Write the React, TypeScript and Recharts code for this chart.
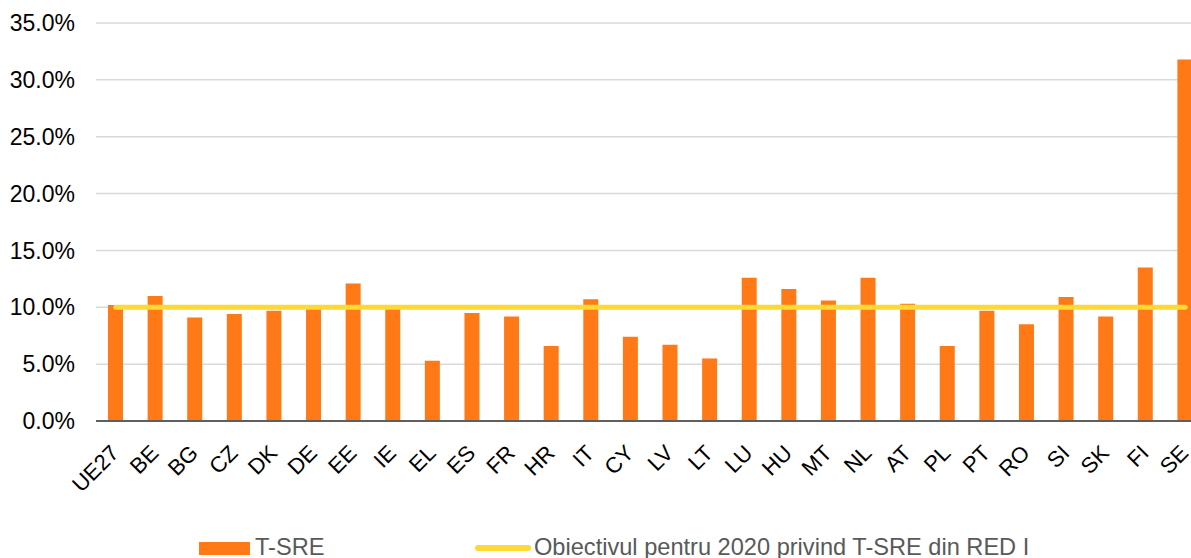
import React from "react";
import {
  ComposedChart,
  Bar,
  Line,
  XAxis,
  YAxis,
  CartesianGrid,
} from "recharts";

const countries = [
  "UE27", "BE", "BG", "CZ", "DK", "DE", "EE", "IE", "EL", "ES", "FR", "HR", "IT", "CY",
  "LV", "LT", "LU", "HU", "MT", "NL", "AT", "PL", "PT", "RO", "SI", "SK", "FI", "SE",
];

// share of renewables in transport (T-SRE), as fractions
const tSre = [
  0.102, 0.110, 0.091, 0.094, 0.097, 0.099, 0.121, 0.099, 0.053, 0.095, 0.092, 0.066, 0.107, 0.074,
  0.067, 0.055, 0.126, 0.116, 0.106, 0.126, 0.103, 0.066, 0.097, 0.085, 0.109, 0.092, 0.135, 0.318,
];

// RED I 2020 target
const target = [
  0.1, 0.1, 0.1, 0.1, 0.1, 0.1, 0.1, 0.1, 0.1, 0.1, 0.1, 0.1, 0.1, 0.1,
  0.1, 0.1, 0.1, 0.1, 0.1, 0.1, 0.1, 0.1, 0.1, 0.1, 0.1, 0.1, 0.1, 0.1,
];

const yTicks = [0, 0.05, 0.1, 0.15, 0.2, 0.25, 0.3, 0.35];

const seriesNames = ["T-SRE", "Obiectivul pentru 2020 privind T-SRE din RED I"];

const BAR_COLOR = "#ff7a17";
const LINE_COLOR = "#fdd935";
const FONT = "'Liberation Sans', Arial, sans-serif";

const data = countries.map((c, i) => ({ name: c, tsre: tSre[i], target: target[i] }));

const pct = (v: number) => `${(v * 100).toFixed(1)}%`;

const CountryTick = ({ x, y, payload }: any) => (
  <g transform={`translate(${x - 1},${y + 26})`}>
    <text
      x={0}
      y={0}
      dy="0.35em"
      textAnchor="end"
      transform="rotate(-45)"
      fill="#000"
      fontSize={22}
      fontFamily={FONT}
    >
      {payload.value}
    </text>
  </g>
);

const legendText: React.CSSProperties = {
  position: "absolute",
  top: 534,
  fontSize: 23.6,
  lineHeight: "26px",
  color: "#595959",
  whiteSpace: "nowrap",
};

export default function App() {
  return (
    <div
      style={{
        position: "fixed",
        left: 0,
        top: 0,
        width: 1191,
        height: 558,
        overflow: "hidden",
        background: "#fff",
        fontFamily: FONT,
      }}
    >
      <ComposedChart
        width={1205}
        height={558}
        data={data}
        margin={{ top: 23, right: 0, left: 0, bottom: 0 }}
      >
        <CartesianGrid vertical={false} stroke="#d9d9d9" strokeWidth={1.5} />
        <XAxis
          dataKey="name"
          interval={0}
          height={137}
          tickLine={false}
          tickSize={0}
          axisLine={{ stroke: "#5f5f5f", strokeWidth: 2 }}
          tick={<CountryTick />}
        />
        <YAxis
          width={96}
          domain={[0, 0.35]}
          ticks={yTicks}
          tickFormatter={pct}
          axisLine={false}
          tickLine={false}
          tickSize={0}
          tickMargin={21}
          tick={{ fill: "#000", fontSize: 23, fontFamily: FONT }}
        />
        <Bar dataKey="tsre" fill={BAR_COLOR} barSize={15} isAnimationActive={false} />
        <Line
          dataKey="target"
          stroke={LINE_COLOR}
          strokeWidth={5}
          strokeLinecap="round"
          dot={false}
          activeDot={false}
          isAnimationActive={false}
        />
      </ComposedChart>

      <div style={{ position: "absolute", left: 199, top: 542, width: 51, height: 13, background: BAR_COLOR }} />
      <div style={{ ...legendText, left: 255 }}>{seriesNames[0]}</div>
      <div
        style={{
          position: "absolute",
          left: 475,
          top: 545,
          width: 56,
          height: 5.5,
          borderRadius: 3,
          background: LINE_COLOR,
        }}
      />
      <div style={{ ...legendText, left: 534 }}>{seriesNames[1]}</div>
    </div>
  );
}
